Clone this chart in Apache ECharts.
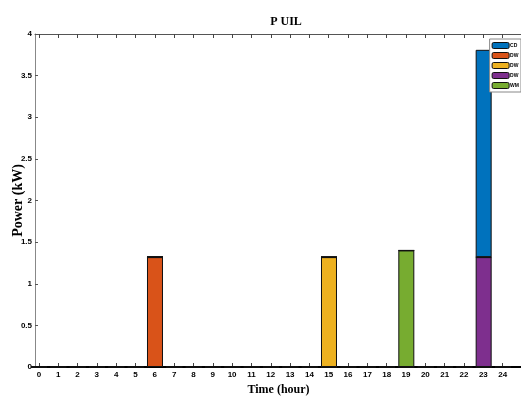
<!DOCTYPE html>
<html><head><meta charset="utf-8">
<script src="https://cdn.jsdelivr.net/npm/echarts@6/dist/echarts.min.js"></script>
<style>html,body{margin:0;padding:0;background:#fff}#c{width:521px;height:396px}</style>
</head><body><div id="c"></div>
<script>
const hours = [0,1,2,3,4,5,6,7,8,9,10,11,12,13,14,15,16,17,18,19,20,21,22,23,24];
const xTickLabels = hours.map(String);
const yTickLabels = ['0','0.5','1','1.5','2','2.5','3','3.5','4'];
const seriesColors = ['#0072BD','#D95319','#EDB120','#7E2F8E','#77AC30'];
// values per hour (kW)
const cdVals  = [0,0,0,0,0,0,0,0,0,0,0,0,0,0,0,0,0,0,0,0,0,0,0,2.49,0];
const dw1Vals = [0,0,0,0,0,0,1.32,0,0,0,0,0,0,0,0,0,0,0,0,0,0,0,0,0,0];
const dw2Vals = [0,0,0,0,0,0,0,0,0,0,0,0,0,0,0,1.32,0,0,0,0,0,0,0,0,0];
const dw3Vals = [0,0,0,0,0,0,0,0,0,0,0,0,0,0,0,0,0,0,0,0,0,0,0,1.32,0];
const wmVals  = [0,0,0,0,0,0,0,0,0,0,0,0,0,0,0,0,0,0,0,1.40,0,0,0,0,0];

const ids = ['CD','DW1','DW2','DW3','WM'];
const valsById = {CD:cdVals, DW1:dw1Vals, DW2:dw2Vals, DW3:dw3Vals, WM:wmVals};
const stackOrder = ['DW1','DW2','DW3','WM','CD'];

const chart = echarts.init(document.getElementById('c'), null, {renderer:'canvas'});
const tickFont = {fontFamily:'Liberation Sans Narrow, Liberation Sans, sans-serif', fontWeight:'bold', fontSize:8, color:'#000'};
const series = stackOrder.map(id => {
  const i = ids.indexOf(id);
  return {
    name: id, type:'bar', stack:'s', barWidth:16, xAxisIndex:0, yAxisIndex:0,
    itemStyle:{color:seriesColors[i], borderColor:'#111', borderWidth:1},
    data: valsById[id]
  };
});
chart.setOption({
  animation:false,
  title:{text:'P UIL', left:281, top:11, textAlign:'center',
    textStyle:{fontFamily:'Liberation Serif, serif', fontWeight:'bold', fontSize:12, color:'#000'}},
  grid:[
    {left:29.33, top:34, width:483.33, height:333, containLabel:false, outerBoundsMode:'none'},
    {left:35, top:34, width:487, height:333, containLabel:false, outerBoundsMode:'none'}
  ],
  legend:{
    data: ids, orient:'vertical', right:0, top:39, itemGap:3, itemWidth:17, itemHeight:6,
    padding:[3,2,3,2], backgroundColor:'#fff', borderColor:'#888', borderWidth:1,
    formatter: n => n.replace(/\d/g,''),
    textStyle:{fontFamily:'Liberation Sans Narrow, sans-serif', fontWeight:'bold', fontSize:5, color:'#000', padding:[0,0,0,-4]},
    itemStyle:{borderColor:'#111', borderWidth:1}
  },
  xAxis:[{
    gridIndex:0, type:'category', data:xTickLabels, boundaryGap:true, show:false
  },{
    gridIndex:1, type:'value', min:-0.2, max:25,
    name:'Time (hour)', nameLocation:'middle', nameGap:17,
    nameTextStyle:{fontFamily:'Liberation Serif, serif', fontWeight:'bold', fontSize:12, color:'#000'},
    axisLine:{onZero:false, lineStyle:{color:'#000', width:2}},
    axisTick:{inside:true, length:4, lineStyle:{color:'#444'}, customValues:hours},
    axisLabel:Object.assign({margin:4, customValues:hours, formatter:v=>xTickLabels[Math.round(v)]}, tickFont),
    splitLine:{show:false}
  },{
    gridIndex:1, type:'value', min:-0.2, max:25, position:'top',
    axisLine:{onZero:false, lineStyle:{color:'#555', width:1}},
    axisTick:{inside:true, length:4, lineStyle:{color:'#444'}, customValues:hours},
    axisLabel:{show:false}, splitLine:{show:false}
  }],
  yAxis:[{
    gridIndex:0, type:'value', min:0, max:4, show:false
  },{
    gridIndex:1, type:'value', min:0, max:4, interval:0.5,
    name:'Power (kW)', nameLocation:'middle', nameGap:10, nameMoveOverlap:false,
    nameTextStyle:{fontFamily:'Liberation Serif, serif', fontWeight:'bold', fontSize:14, color:'#000'},
    axisLine:{show:true, onZero:false, lineStyle:{color:'#888', width:1}},
    axisTick:{inside:true, length:3, lineStyle:{color:'#555'}},
    axisLabel:Object.assign({margin:3, formatter:v=>yTickLabels[Math.round(v*2)]}, tickFont),
    splitLine:{show:false}
  }],
  series: series
});
</script></body></html>
